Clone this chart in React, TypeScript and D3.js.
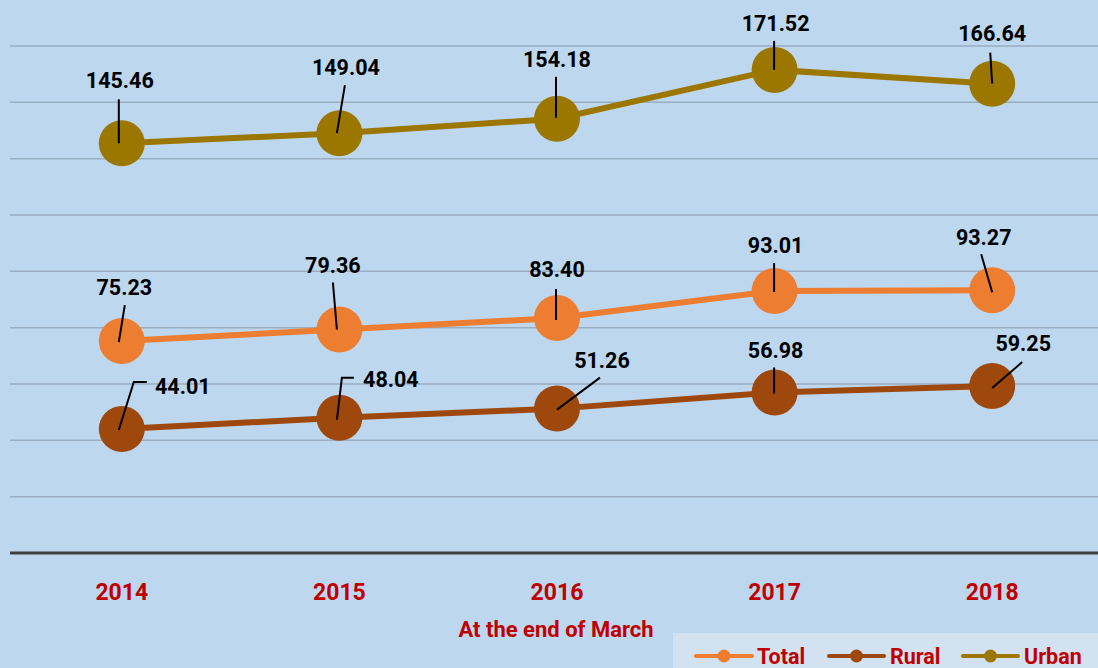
import * as d3 from "d3";

const years = ["2014", "2015", "2016", "2017", "2018"];
const totalValues = [75.23, 79.36, 83.4, 93.01, 93.27];
const ruralValues = [44.01, 48.04, 51.26, 56.98, 59.25];
const urbanValues = [145.46, 149.04, 154.18, 171.52, 166.64];
const yTicks = [0, 20, 40, 60, 80, 100, 120, 140, 160, 180];

// label placement relative to each point: text centre, then leader polyline
type Lbl = { dx: number; dy: number; leader: [number, number][] };
const urbanLabels: Lbl[] = [
  { dx: -2, dy: -63, leader: [[-3, -44], [-3, 0]] },
  { dx: 6.5, dy: -66, leader: [[5.5, -48], [-2.5, 0]] },
  { dx: 0, dy: -60, leader: [[-1, -42], [-1, -1]] },
  { dx: 1, dy: -47, leader: [[-0.5, -29], [-0.5, 0]] },
  { dx: 0, dy: -50, leader: [[-2, -31], [0, 0]] },
];
const totalLabels: Lbl[] = [
  { dx: 2.5, dy: -53.5, leader: [[3, -36], [-3, 1]] },
  { dx: -6.5, dy: -64, leader: [[-6.5, -47], [-2.5, 0]] },
  { dx: 0, dy: -48.5, leader: [[-1, -29], [-1, 2]] },
  { dx: 1, dy: -45.5, leader: [[-0.5, -28], [-0.5, 1]] },
  { dx: -8.5, dy: -53, leader: [[-11, -36], [0, 2]] },
];
const ruralLabels: Lbl[] = [
  { dx: 61, dy: -43, leader: [[25, -47], [12, -47], [-3, 1]] },
  { dx: 51.5, dy: -38, leader: [[14.5, -40], [2.5, -40], [-2.5, 2]] },
  { dx: 45, dy: -48, leader: [[43, -31], [0, 1]] },
  { dx: 1, dy: -42, leader: [[-0.5, -25], [-0.5, 1]] },
  { dx: 31, dy: -42.5, leader: [[30, -24], [0, 2]] },
];

const series = [
  { name: "Urban", values: urbanValues, color: "#9C7700", labels: urbanLabels },
  { name: "Total", values: totalValues, color: "#ED7D31", labels: totalLabels },
  { name: "Rural", values: ruralValues, color: "#9E480E", labels: ruralLabels },
];
const legendOrder = ["Total", "Rural", "Urban"];

const W = 1098;
const H = 668;
const FONT = "Roboto, 'Open Sans', sans-serif";
const RED = "#C00000";

export default function App() {
  const x = d3.scaleBand<string>().domain(years).range([13, 1101]);
  const cx = (yr: string) => (x(yr) as number) + x.bandwidth() / 2;
  const y = d3.scaleLinear().domain([0, 180]).range([553, 46]);
  const line = d3
    .line<number>()
    .x((_, i) => cx(years[i]))
    .y((d) => y(d));

  const legendPos = [
    { x1: 696, x2: 752, tx: 757 },
    { x1: 829, x2: 884, tx: 890 },
    { x1: 963, x2: 1018, tx: 1024 },
  ];

  return (
    <svg width={W} height={H} style={{ position: "absolute", left: 0, top: 0 }} fontFamily={FONT}>
      <rect width={W} height={H} fill="#BDD7EE" />
      {yTicks.slice(1).map((t) => (
        <line key={t} x1={10} x2={W} y1={y(t)} y2={y(t)} stroke="#9BADC0" strokeWidth={1.5} />
      ))}
      <line x1={10} x2={W} y1={y(0)} y2={y(0)} stroke="#404040" strokeWidth={3} />

      {series.map((s) => (
        <g key={s.name}>
          <path d={line(s.values) || ""} fill="none" stroke={s.color} strokeWidth={6} />
          {s.values.map((v, i) => (
            <circle key={i} cx={cx(years[i])} cy={y(v)} r={23} fill={s.color} />
          ))}
        </g>
      ))}

      {series.map((s) =>
        s.values.map((v, i) => {
          const px = cx(years[i]);
          const py = y(v);
          const l = s.labels[i];
          const pts = l.leader.map(([a, b]) => `${px + a},${py + b}`).join(" ");
          return (
            <g key={s.name + i}>
              <polyline points={pts} fill="none" stroke="#000" strokeWidth={2} />
              <text
                x={px + l.dx}
                y={py + l.dy + 7.8}
                textAnchor="middle"
                fontSize={21.5}
                fontWeight="bold"
                fill="#000"
              >
                {v.toFixed(2)}
              </text>
            </g>
          );
        })
      )}

      {years.map((yr) => (
        <text key={yr} x={cx(yr)} y={600} textAnchor="middle" fontSize={23} fontWeight="bold" fill={RED}>
          {yr}
        </text>
      ))}
      <text x={556} y={637} textAnchor="middle" fontSize={22} fontWeight="bold" fill={RED}>
        At the end of March
      </text>

      <rect x={673} y={633} width={W - 673} height={H - 633} fill="#D2E2F1" />
      {legendOrder.map((name, i) => {
        const s = series.find((d) => d.name === name)!;
        const p = legendPos[i];
        return (
          <g key={name}>
            <line x1={p.x1} x2={p.x2} y1={656} y2={656} stroke={s.color} strokeWidth={4} strokeLinecap="round" />
            <circle cx={(p.x1 + p.x2) / 2} cy={656} r={6.5} fill={s.color} />
            <text x={p.tx} y={663.5} fontSize={21.5} fontWeight="bold" fill={RED}>
              {name}
            </text>
          </g>
        );
      })}
    </svg>
  );
}
